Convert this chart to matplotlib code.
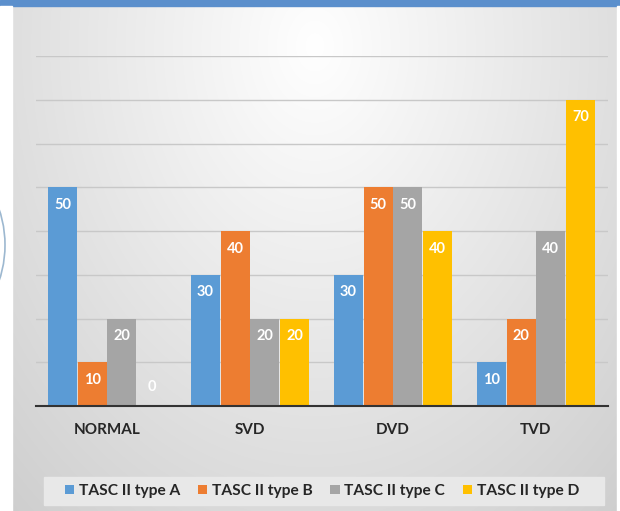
import numpy as np
import matplotlib
matplotlib.use("Agg")
import matplotlib.pyplot as plt
from matplotlib.patches import Rectangle, Arc

plt.rcParams['font.family'] = ['Lato', 'DejaVu Sans']

categories = ['NORMAL', 'SVD', 'DVD', 'TVD']
series = ['TASC II type A', 'TASC II type B', 'TASC II type C', 'TASC II type D']
type_a = [50, 30, 30, 10]
type_b = [10, 40, 50, 20]
type_c = [20, 20, 50, 40]
type_d = [0, 20, 40, 70]
colors = ['#5B9BD5', '#ED7D31', '#A5A5A5', '#FFC000']

fig = plt.figure(figsize=(6.2, 5.11), dpi=100)

# background panel with soft radial gradient
bg = fig.add_axes([0, 0, 1, 1])
bg.set_xlim(0, 620)
bg.set_ylim(511, 0)
bg.axis('off')
yy, xx = np.mgrid[0:511, 0:620]
d = np.sqrt(((xx - 310) / 420.0) ** 2 + ((yy - 40) / 560.0) ** 2)
shade = np.clip(1.0 - 0.17 * d, 0.80, 1.0)
img = np.dstack([shade, shade, shade])
bg.imshow(img, extent=(12, 617, 511, 6), aspect='auto', zorder=0)
bg.add_patch(Rectangle((0, 0), 620, 6, color='#5B8FCC', zorder=1))
bg.add_patch(Rectangle((0, 6), 12, 505, color='white', zorder=1))
bg.add_patch(Rectangle((617, 6), 3, 505, color='white', zorder=1))
bg.add_patch(Arc((-75, 245), 160, 190, theta1=-65, theta2=65, color='#9DB8D0', lw=1.2, zorder=2))
bg.add_patch(Rectangle((44, 477), 560, 28, color='#E8E8E8', zorder=1))

ax = fig.add_axes([35.5 / 620, 1 - 406 / 511, 572 / 620, 350 / 511])
ax.patch.set_alpha(0)
x = np.arange(len(categories))
w = 0.208
data = [type_a, type_b, type_c, type_d]
for i, (vals, c, name) in enumerate(zip(data, colors, series)):
    pos = x + (i - 1.5) * w
    ax.bar(pos, vals, width=w * 0.97, color=c, label=name, zorder=3)
    for p, v in zip(pos, vals):
        ty = v - 4.0 if v > 0 else 4.3
        ax.text(p, ty, str(v), ha='center', va='center', color='white',
                fontsize=10.5, fontweight='bold', zorder=4)

ax.set_ylim(0, 80)
ax.set_xlim(-0.5, 3.5)
ax.set_yticks(np.arange(10, 81, 10))
ax.yaxis.grid(True, color='#C8C8C8', lw=1.0, zorder=0)
ax.tick_params(axis='y', length=0, labelleft=False)
ax.tick_params(axis='x', length=0, pad=12)
ax.set_xticks(x)
ax.set_xticklabels(categories, fontsize=11, fontweight='bold', color='#262626')
for s in ['top', 'right', 'left']:
    ax.spines[s].set_visible(False)
ax.spines['bottom'].set_color('#333333')
ax.spines['bottom'].set_linewidth(1.5)
ax.spines['bottom'].set_zorder(5)

leg = fig.legend(loc='center', bbox_to_anchor=(322 / 620, 1 - 491 / 511), ncol=4,
                 frameon=False, handlelength=0.6, handleheight=0.6,
                 handletextpad=0.3, columnspacing=1.15,
                 prop={'weight': 'bold', 'size': 11.2})
for t in leg.get_texts():
    t.set_color('#262626')

fig.savefig('out.png', dpi=100)
